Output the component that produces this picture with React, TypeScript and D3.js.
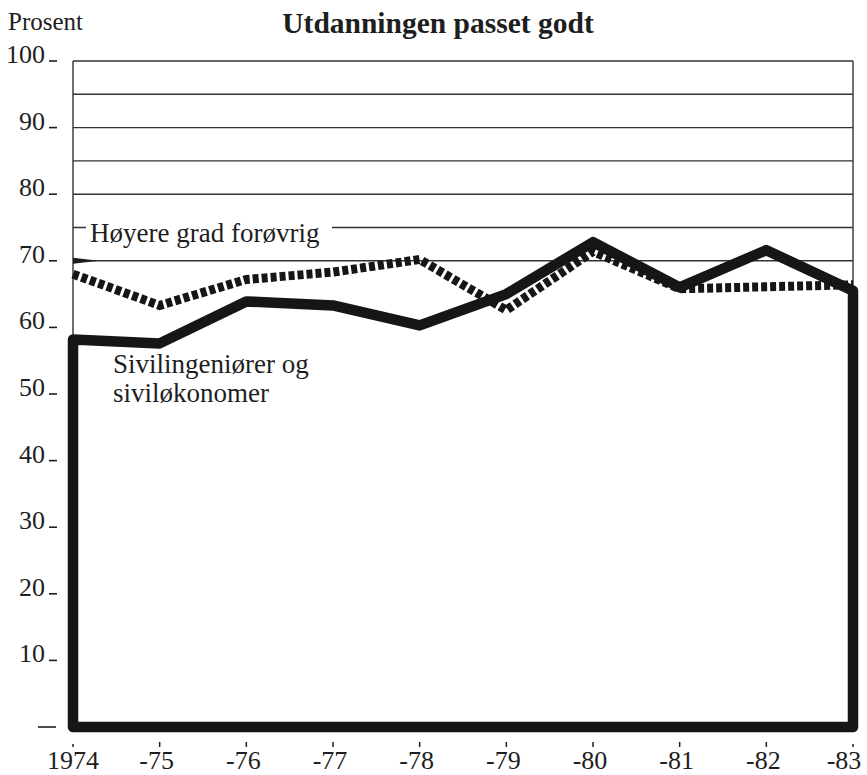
import * as d3 from "d3";

// years along the bottom
const years = ["1974", "-75", "-76", "-77", "-78", "-79", "-80", "-81", "-82", "-83"];
// Sivilingeniører og siviløkonomer (solid)
const sivil = [58.2, 57.6, 63.9, 63.3, 60.3, 65, 72.8, 66, 71.6, 65.5];
// Høyere grad forøvrig (dotted)
const hoyere = [68, 63.3, 67.2, 68.3, 70.2, 62.6, 71.4, 65.8, 66.1, 66.4];

const yTicks = [100, 90, 80, 70, 60, 50, 40, 30, 20, 10];
const gridVals = [100, 95, 90, 85, 80, 75, 70];

const W = 867;
const H = 775;
const font = "Liberation Serif";
const ink = "#1e1e1e";

const App = () => {
  const x = d3.scalePoint<string>().domain(years).range([73, 853]);
  const y = d3.scaleLinear().domain([0, 100]).range([727, 61]);
  const x0 = x(years[0])!;
  const x1 = x(years[years.length - 1])!;

  const line = d3.line<[number, number]>();

  const solidPts: [number, number][] = [
    [x0, y(0)],
    ...sivil.map((v, i) => [x(years[i])!, y(v)] as [number, number]),
    [x1, y(0)],
  ];
  const solidPath = line(solidPts) + "Z";
  const dotPath = line(hoyere.map((v, i) => [x(years[i])!, y(v)] as [number, number]));

  return (
    <svg
      width={W}
      height={H}
      style={{ position: "absolute", left: 0, top: 0, background: "#fff", fontFamily: font }}
    >
      <text x={8} y={30} fontSize={25} fill={ink}>Prosent</text>
      <text x={438} y={33} fontSize={29.5} fontWeight="bold" textAnchor="middle" fill={ink}>
        Utdanningen passet godt
      </text>

      {/* frame + grid */}
      {gridVals.map((v) => (
        <line key={v} x1={x0} x2={x1} y1={y(v)} y2={y(v)} stroke="#333" strokeWidth={1.4} />
      ))}
      <line x1={x0} x2={x0} y1={y(100)} y2={y(0)} stroke="#333" strokeWidth={1.4} />
      <line x1={x1} x2={x1} y1={y(100)} y2={y(0)} stroke="#333" strokeWidth={1.4} />

      {/* y axis labels */}
      {yTicks.map((v) => (
        <g key={v}>
          <text x={45} y={y(v) + 2} fontSize={26} textAnchor="end" fill={ink}>{v}</text>
          <line x1={49} x2={57} y1={y(v)} y2={y(v)} stroke={ink} strokeWidth={1.6} />
        </g>
      ))}
      <line x1={38} x2={56} y1={y(0)} y2={y(0)} stroke={ink} strokeWidth={1.6} />
      <polygon
        points={`${x0},${y(70) - 3} ${x0 + 26},${y(70)} ${x0},${y(70) + 3}`}
        fill={ink}
      />

      {/* label for dotted series, with white backing over the grid */}
      <rect x={86} y={y(75) - 8} width={246} height={26} fill="#fff" />
      <text x={90} y={242} fontSize={27} fill={ink}>Høyere grad forøvrig</text>

      <path d={solidPath} fill="none" stroke="#161616" strokeWidth={10.5} strokeLinejoin="round" />
      <path d={dotPath ?? ""} fill="none" stroke="#161616" strokeWidth={9} strokeDasharray="6 3" />

      <text fontSize={27} fill={ink}>
        <tspan x={113} y={373}>Sivilingeniører og</tspan>
        <tspan x={113} y={402}>siviløkonomer</tspan>
      </text>

      {/* x axis */}
      {years.map((yr, i) => (
        <g key={yr}>
          <line
            x1={x(yr)}
            x2={x(yr)}
            y1={i === 0 || i === years.length - 1 ? 744 : 742}
            y2={747}
            stroke={ink}
            strokeWidth={1.5}
          />
          <text
            x={x(yr)! - (i === 0 ? 0 : i === years.length - 1 ? 9 : 3)}
            y={769}
            fontSize={26}
            textAnchor="middle"
            fill={ink}
          >
            {yr}
          </text>
        </g>
      ))}
    </svg>
  );
};

export default App;
